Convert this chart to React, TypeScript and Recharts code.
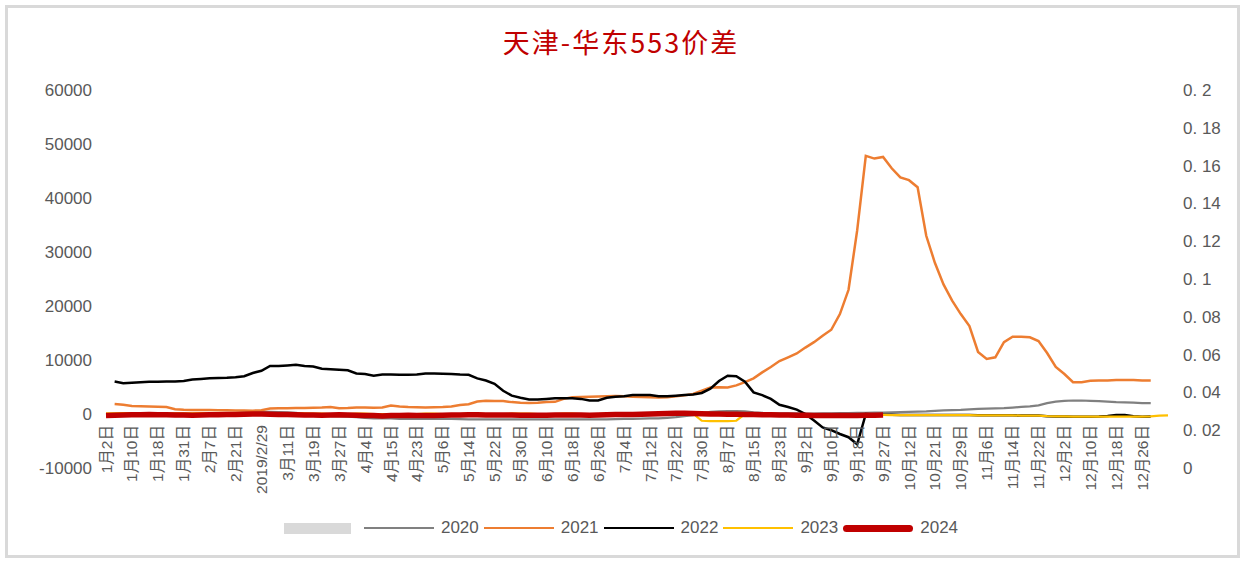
import React from 'react';
import { LineChart, Line, XAxis, YAxis, Legend } from 'recharts';

const tickLabels = ['1月2日','1月10日','1月18日','1月31日','2月7日','2月21日','2019/2/29','3月11日','3月19日','3月27日','4月4日','4月15日','4月23日','5月6日','5月14日','5月22日','5月30日','6月10日','6月18日','6月26日','7月4日','7月12日','7月22日','7月30日','8月7日','8月15日','8月23日','9月2日','9月10日','9月18日','9月27日','10月12日','10月21日','10月29日','11月6日','11月14日','11月22日','12月2日','12月10日','12月18日','12月26日'];

const s2020 = [0,50,100,100,50,0,0,50,100,100,
50,0,0,50,100,150,300,400,400,400,
350,300,200,0,-200,-300,-400,-400,-500,-600,
-700,-800,-800,-800,-900,-900,-900,-900,-900,-900,
-900,-950,-1000,-1000,-1000,-1000,-1000,-1000,-1000,-1000,
-1000,-1000,-1000,-1000,-1000,-1000,-1000,-1000,-1000,-950,
-900,-900,-850,-800,-800,-700,-600,-400,-200,100,
400,500,550,550,500,300,200,150,100,100,
100,50,50,100,100,150,150,200,200,250,
250,300,350,400,450,500,600,650,700,750,
850,950,1000,1050,1100,1200,1300,1400,1600,2000,
2300,2450,2500,2500,2450,2400,2300,2200,2150,2100,
2000,2000,null,null];

const s2021 = [null,1850,1700,1500,1450,1400,1350,1300,900,800,
750,750,750,700,700,650,650,620,700,1000,
1050,1050,1100,1100,1150,1200,1300,1050,1100,1200,
1200,1150,1200,1550,1400,1300,1250,1200,1250,1300,
1400,1650,1800,2300,2450,2400,2400,2200,2100,2050,
2100,2200,2250,2800,3100,3150,3200,3250,3300,3350,
3300,3200,3150,3100,3050,3100,3300,3450,3700,4300,
4900,4950,4900,5300,5900,6600,7700,8700,9800,10500,
11200,12300,13300,14500,15600,18500,23000,34000,47800,47300,
47600,45500,43800,43300,42000,33000,28000,24000,21000,18500,
16300,11500,10200,10500,13300,14300,14300,14200,13500,11300,
8700,7400,5900,5900,6150,6200,6200,6300,6300,6300,
6200,6200,null,null];

const s2022 = [null,6000,5700,5800,5900,5950,5950,6000,6000,6100,
6400,6500,6600,6650,6700,6800,7000,7600,8000,8900,
8900,9000,9100,8900,8800,8400,8300,8200,8100,7500,
7400,7100,7300,7300,7250,7250,7300,7500,7500,7450,
7400,7300,7250,6600,6200,5600,4300,3400,3000,2700,
2700,2800,2900,2900,2900,2800,2500,2500,3000,3200,
3300,3500,3500,3500,3300,3300,3400,3500,3600,3900,
4700,6100,7100,7000,6000,4000,3500,2800,1700,1300,
800,0,-1200,-2500,-3000,-3700,-4300,-5600,0,-100,
-150,-150,-200,-200,-200,-200,-200,-200,-200,-200,
-200,-250,-250,-250,-250,-250,-300,-300,-300,-400,
-450,-450,-500,-500,-500,-450,-350,-200,-200,-400,
-500,-450,null,null];

const s2023 = [100,100,150,150,100,100,50,50,100,100,
100,150,150,100,100,50,50,0,0,50,
50,100,100,100,50,50,0,0,0,50,
50,0,0,-50,-50,0,0,50,50,0,
0,0,50,50,0,0,0,50,50,50,
0,0,0,50,50,0,0,0,50,50,
50,0,0,0,50,50,100,100,50,-1250,
-1300,-1300,-1300,-1250,0,0,50,50,0,0,
0,-50,-50,0,0,-50,-50,-100,-100,-150,
-150,-200,-200,-200,-200,-200,-200,-200,-200,-200,
-200,-250,-250,-250,-250,-250,-300,-300,-300,-400,
-450,-450,-500,-500,-500,-500,-500,-500,-500,-500,
-500,-450,-300,-250];

const s2024 = [-300,-250,-200,-150,-150,-100,-150,-150,-200,-200,
-250,-200,-150,-150,-100,-100,-50,0,0,-50,
-100,-100,-150,-200,-200,-250,-200,-150,-200,-250,
-300,-300,-350,-300,-300,-250,-300,-300,-300,-250,
-200,-200,-150,-150,-200,-200,-200,-200,-250,-250,
-250,-250,-200,-200,-200,-200,-250,-200,-150,-100,
-100,-100,-50,0,50,100,150,150,100,50,
0,0,-50,-50,-100,-100,-150,-150,-200,-200,
-250,-250,-300,-300,-300,-300,-300,-300,-250,-250,
-200,null,null,null,null,null,null,null,null,null,
null,null,null,null,null,null,null,null,null,null,
null,null,null,null,null,null,null,null,null,null,
null,null,null,null];

const leftTicks = [-10000, 0, 10000, 20000, 30000, 40000, 50000, 60000];
const rightTicks = [0, 0.02, 0.04, 0.06, 0.08, 0.1, 0.12, 0.14, 0.16, 0.18, 0.2];
const STEP = 3;

const data = s2020.map((v, i) => ({
  i,
  y2020: v,
  y2021: s2021[i],
  y2022: s2022[i],
  y2023: s2023[i],
  y2024: s2024[i],
  band: null as number | null,
}));

const xTicks = tickLabels.map((_, k) => k * STEP);

const legendItems = [
  { name: '2020', color: '#808080', w: 2.5 },
  { name: '2021', color: '#ED7D31', w: 2.5 },
  { name: '2022', color: '#000000', w: 2.5 },
  { name: '2023', color: '#FFC000', w: 2.5 },
  { name: '2024', color: '#C00000', w: 7 },
];

const FONT = '"Liberation Sans", Arial, "Noto Sans CJK SC", sans-serif';

const XTick = (props: any) => {
  const { x, y, payload } = props;
  const label = tickLabels[Math.round(payload.value / STEP)];
  const ty = y - 43;
  return (
    <text
      x={x}
      y={ty}
      transform={`rotate(-90, ${x}, ${ty})`}
      textAnchor="end"
      dy="0.36em"
      fontSize={15.5}
      fill="#595959"
      fontFamily={FONT}
    >
      {label}
    </text>
  );
};

const rightFmt = (v: number) => {
  if (v === 0) return '0';
  let s = v.toFixed(2);
  if (s.endsWith('0')) s = s.slice(0, -1);
  return s.replace('.', '. ');
};

const renderLegend = () => (
  <div style={{ display: 'flex', alignItems: 'center', justifyContent: 'center', fontFamily: FONT, fontSize: 17, color: '#595959', height: 24 }}>
    <div style={{ width: 67, height: 11, background: '#D9D9D9', marginRight: 13 }} />
    {legendItems.map((it, idx) => (
      <div key={it.name} style={{ display: 'flex', alignItems: 'center', marginRight: idx === legendItems.length - 1 ? 0 : 5 }}>
        <div style={{ width: 70, height: it.w, background: it.color, borderRadius: it.w > 3 ? 4 : 0, marginRight: 7 }} />
        <span>{it.name}</span>
      </div>
    ))}
  </div>
);

export default function App() {
  return (
    <div style={{ position: 'absolute', left: 0, top: 0, width: 1242, height: 561, background: '#fff' }}>
      <div style={{ position: 'absolute', left: 5, top: 5, width: 1235, height: 553, border: '3px solid #D9D9D9', boxSizing: 'border-box' }} />
      <div style={{ position: 'absolute', left: 0, top: 28, width: 1242, textAlign: 'center', fontSize: 27, lineHeight: '27px', letterSpacing: 2, color: '#C00000', fontFamily: '"Noto Sans CJK SC", sans-serif' }}>
        天津-华东553价差
      </div>
      <div style={{ position: 'absolute', left: 0, top: 0 }}>
        <LineChart width={1242} height={561} data={data} margin={{ top: 90, right: 14, bottom: 63, left: 0 }}>
          <XAxis
            dataKey="i"
            type="number"
            domain={[0, 123]}
            ticks={xTicks}
            interval={0}
            axisLine={false}
            tickLine={false}
            tickSize={0}
            tickMargin={0}
            height={30}
            tick={<XTick />}
          />
          <YAxis
            yAxisId="left"
            domain={[-10000, 60000]}
            ticks={leftTicks}
            interval={0}
            axisLine={false}
            tickLine={false}
            tickSize={0}
            tickMargin={14}
            width={106}
            tick={{ fontSize: 17, fill: '#595959', fontFamily: FONT }}
          />
          <YAxis
            yAxisId="right"
            orientation="right"
            type="number"
            domain={[0, 0.2]}
            allowDataOverflow
            ticks={rightTicks}
            interval={0}
            axisLine={false}
            tickLine={false}
            tickSize={0}
            tickMargin={15}
            width={60}
            tickFormatter={rightFmt}
            tick={{ fontSize: 17, fill: '#595959', fontFamily: FONT, textAnchor: 'start' }}
          />
          <Legend
            layout="horizontal"
            verticalAlign="middle"
            align="center"
            wrapperStyle={{ left: 0, top: 516, width: 1242 }}
            content={renderLegend}
          />
          <Line yAxisId="right" type="linear" dataKey="band" name="" stroke="#D9D9D9" dot={false} legendType="none" isAnimationActive={false} />
          <Line yAxisId="left" type="linear" dataKey="y2020" name="2020" stroke="#808080" strokeWidth={2.25} dot={false} isAnimationActive={false} />
          <Line yAxisId="left" type="linear" dataKey="y2021" name="2021" stroke="#ED7D31" strokeWidth={2.5} dot={false} isAnimationActive={false} />
          <Line yAxisId="left" type="linear" dataKey="y2022" name="2022" stroke="#000000" strokeWidth={2.5} dot={false} isAnimationActive={false} />
          <Line yAxisId="left" type="linear" dataKey="y2023" name="2023" stroke="#FFC000" strokeWidth={2.25} dot={false} isAnimationActive={false} />
          <Line yAxisId="left" type="linear" dataKey="y2024" name="2024" stroke="#C00000" strokeWidth={5.5} dot={false} isAnimationActive={false} />
        </LineChart>
      </div>
    </div>
  );
}
